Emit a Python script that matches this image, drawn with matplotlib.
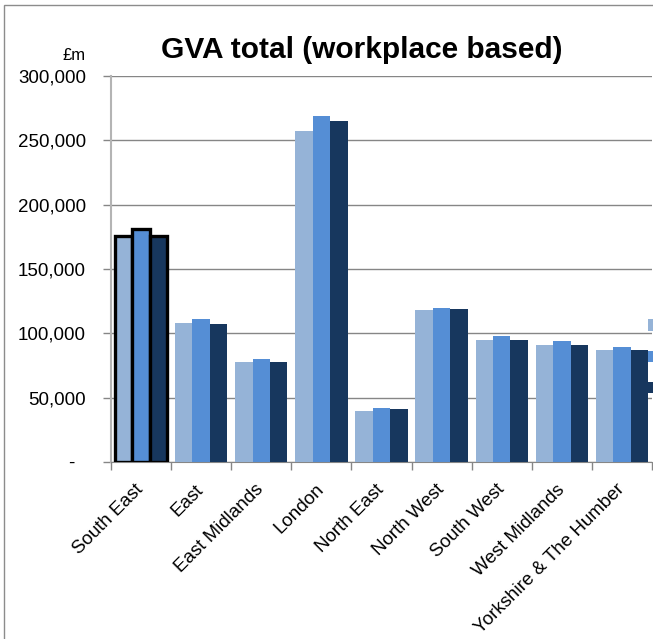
import numpy as np
import matplotlib
matplotlib.use("Agg")
import matplotlib.pyplot as plt
from matplotlib.patches import Rectangle
from matplotlib.ticker import FuncFormatter

plt.rcParams['font.family'] = ['Liberation Sans', 'DejaVu Sans']

regions = ["South East", "East", "East Midlands", "London", "North East",
           "North West", "South West", "West Midlands", "Yorkshire & The Humber"]
series_names = ["2007", "2008", "2009"]
gva_2007 = [176000, 108000, 77500, 257000, 40000, 118000, 95000, 91000, 87000]
gva_2008 = [181000, 111000, 80000, 269000, 42000, 120000, 98000, 94000, 89000]
gva_2009 = [176000, 107000, 77500, 265000, 41000, 119000, 95000, 91000, 87000]
colors = ["#95B3D7", "#558ED5", "#17375E"]

W, H = 653, 639
fig = plt.figure(figsize=(W / 100, H / 100), dpi=100)
ax = fig.add_axes([111 / W, 1 - 462 / H, (652 - 111) / W, (462 - 76) / H])

x = np.arange(len(regions))
width = 0.29
all_bars = []
for i, (vals, c, name) in enumerate(zip([gva_2007, gva_2008, gva_2009], colors, series_names)):
    bars = ax.bar(x + (i - 1) * width, vals, width, color=c, label=name, zorder=3)
    all_bars.append(bars)

# legend mostly cut off at the right edge (made before the outline so handles stay plain)
fig.legend(loc="upper left", bbox_to_anchor=(648 / W, 1 - 319 / H), frameon=False,
           fontsize=13.5, handlelength=0.8, handleheight=0.6, borderpad=0,
           labelspacing=0.75, borderaxespad=0)

# highlighted region gets a thick black outline
for bars in all_bars:
    bars[0].set_edgecolor("black")
    bars[0].set_linewidth(2.4)

ax.set_xlim(-0.5, len(regions) - 0.5)
ax.set_ylim(0, 300000)
ax.set_yticks(np.arange(0, 300001, 50000))
ax.yaxis.set_major_formatter(FuncFormatter(lambda v, p: "-  " if v == 0 else f"{int(v):,}"))
ax.grid(axis="y", color="#868686", linewidth=1.0, zorder=0)

ax.set_xticks(x)
ax.set_xticklabels(regions, rotation=45, ha="right", rotation_mode="anchor", va="center")
ax.set_xticks(np.arange(-0.5, len(regions)), minor=True)
ax.tick_params(axis="x", which="major", length=0, pad=18, labelsize=13.5)
ax.tick_params(axis="x", which="minor", length=6, color="#868686", width=1)
ax.tick_params(axis="y", length=6, color="#868686", width=1, labelsize=13.5, pad=12)

for s in ["top", "right"]:
    ax.spines[s].set_visible(False)
ax.spines["bottom"].set_color("#868686")
ax.spines["left"].set_color("#b4b4b4")
ax.spines["left"].set_linewidth(1.5)

fig.text(362 / W, 1 - 58 / H, "GVA total (workplace based)", fontsize=21.5,
         fontweight="bold", ha="center", va="baseline")
fig.text(74 / W, 1 - 55 / H, "£m", fontsize=12, ha="center", va="center")

# chart frame
fig.patches.append(Rectangle((4 / W, -0.1), 1.2, 1.1 - 5 / H, transform=fig.transFigure,
                             fill=False, edgecolor="#8c8c8c", linewidth=1.0))

fig.savefig("out.png", dpi=100)
